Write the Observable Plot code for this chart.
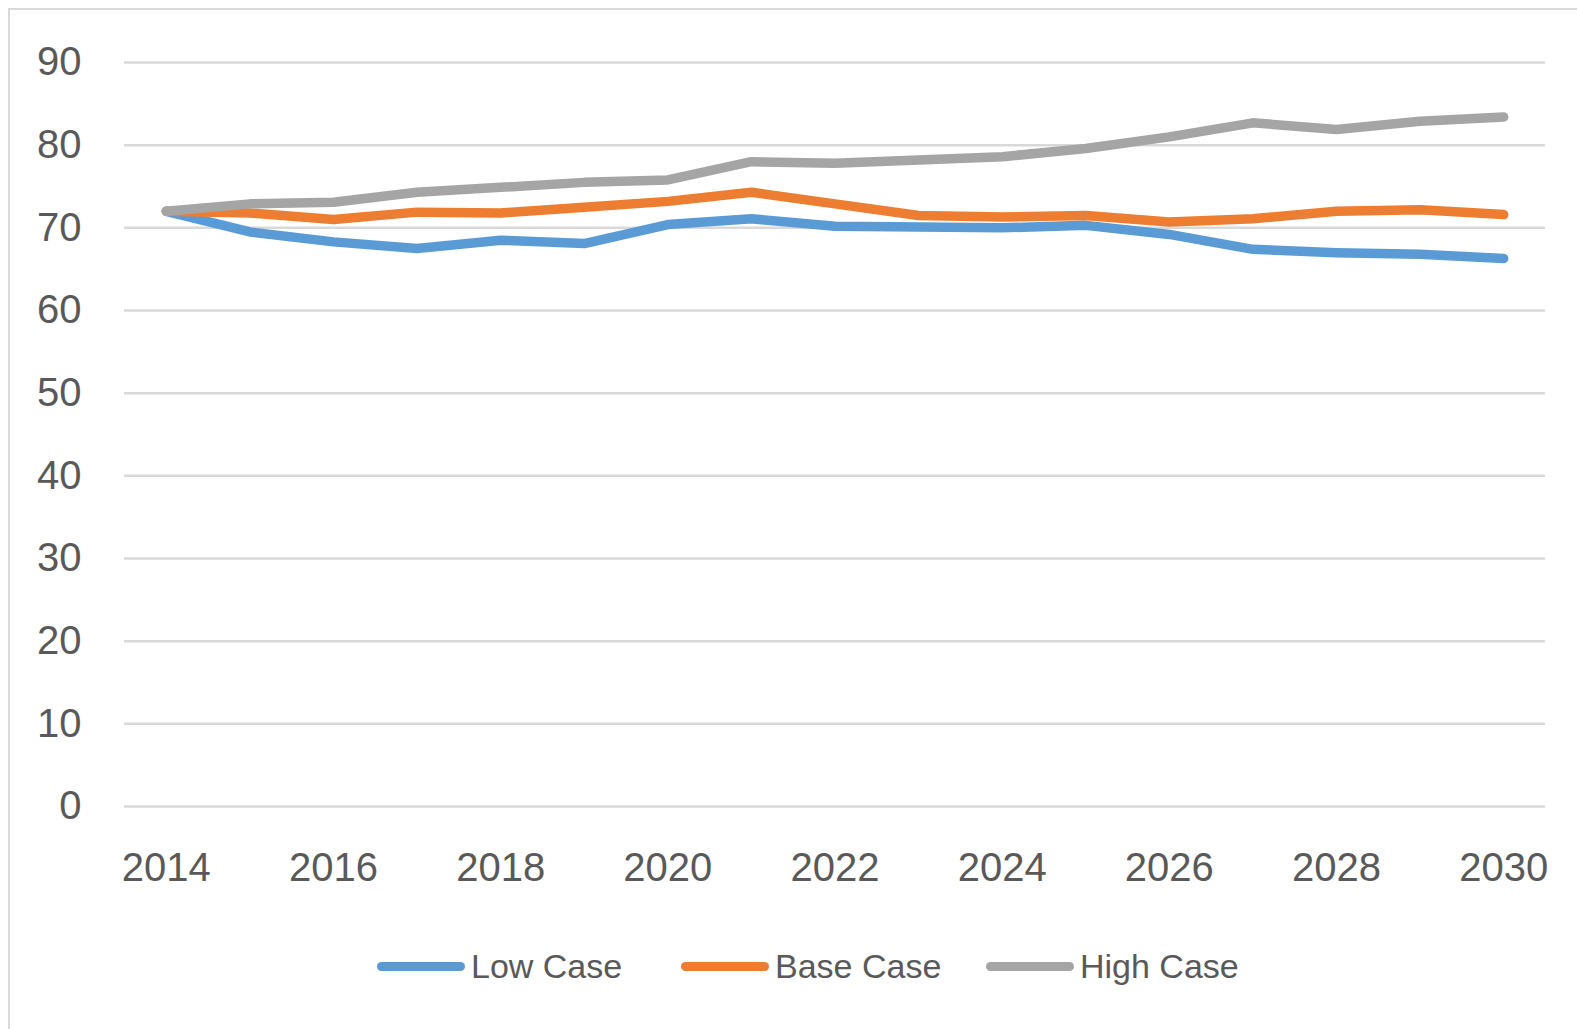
<!DOCTYPE html>
<html>
<head>
<meta charset="utf-8">
<script src="https://cdn.jsdelivr.net/npm/d3@7"></script>
<script src="https://cdn.jsdelivr.net/npm/@observablehq/plot@0.6"></script>
<style>
  html, body { margin: 0; padding: 0; background: #fff; }
  #wrap { position: relative; width: 1577px; height: 1029px; overflow: hidden; font-family: "Liberation Sans", Arial, sans-serif; }
  #frame { position: absolute; left: 8px; top: 8px; width: 1600px; height: 1100px; border: 2px solid #d9d9d9; box-sizing: border-box; }
  #chart { position: absolute; left: 0; top: 0; }
  #legend { position: absolute; top: 942px; left: 0; width: 1577px; height: 48px; }
  .item { position: absolute; top: 0; display: flex; align-items: center; height: 48px; color: #595959; font-size: 34px; }
  .sw { width: 88px; height: 9px; border-radius: 5px; margin-right: 6px; }
</style>
</head>
<body>
<div id="wrap">
  <div id="frame"></div>
  <div id="chart"></div>
  <div id="legend"></div>
</div>
<script>
const years = [2014,2015,2016,2017,2018,2019,2020,2021,2022,2023,2024,2025,2026,2027,2028,2029,2030];
const lowCase  = [72.0,69.5,68.3,67.5,68.5,68.1,70.4,71.1,70.2,70.1,70.0,70.3,69.2,67.4,67.0,66.8,66.3];
const baseCase = [72.0,71.8,71.0,71.9,71.8,72.5,73.2,74.3,72.9,71.5,71.3,71.5,70.7,71.1,72.0,72.2,71.6];
const highCase = [72.0,72.9,73.1,74.3,74.9,75.5,75.8,78.0,77.8,78.2,78.6,79.6,81.0,82.7,81.9,82.9,83.4];
const seriesNames = ["Low Case", "Base Case", "High Case"];
const seriesColors = ["#5b9bd5", "#ed7d31", "#a5a5a5"];
const yTicks = [0,10,20,30,40,50,60,70,80,90];
const xTicks = [2014,2016,2018,2020,2022,2024,2026,2028,2030];

const allSeries = [lowCase, baseCase, highCase];
const data = [];
allSeries.forEach((vals, si) => {
  vals.forEach((v, i) => data.push({year: years[i], value: v, series: seriesNames[si]}));
});

const chart = Plot.plot({
  width: 1577,
  height: 900,
  marginTop: 62,
  marginBottom: 94,
  marginLeft: 124,
  marginRight: 32,
  style: {fontFamily: "Liberation Sans, Arial, sans-serif", color: "#595959", background: "transparent"},
  x: {domain: [2013.5, 2030.5]},
  y: {domain: [0, 90]},
  color: {domain: seriesNames, range: seriesColors},
  marks: [
    Plot.gridY(yTicks, {stroke: "#d9d9d9", strokeOpacity: 1, strokeWidth: 2.5}),
    Plot.axisY(yTicks, {tickSize: 0, tickPadding: 43, fontSize: 40, label: null, tickFormat: d => String(d)}),
    Plot.axisX(xTicks, {tickSize: 0, tickPadding: 46, fontSize: 40, label: null, tickFormat: d => String(d)}),
    Plot.line(data, {x: "year", y: "value", z: "series", stroke: "series", strokeWidth: 9.5, strokeLinecap: "round", strokeLinejoin: "round"})
  ]
});
document.getElementById("chart").appendChild(chart);

const legend = document.getElementById("legend");
const lefts = [377, 681, 986];
seriesNames.forEach((name, i) => {
  const item = document.createElement("div");
  item.className = "item";
  item.style.left = lefts[i] + "px";
  const sw = document.createElement("div");
  sw.className = "sw";
  sw.style.background = seriesColors[i];
  const tx = document.createElement("span");
  tx.textContent = name;
  item.appendChild(sw);
  item.appendChild(tx);
  legend.appendChild(item);
});
</script>
</body>
</html>
